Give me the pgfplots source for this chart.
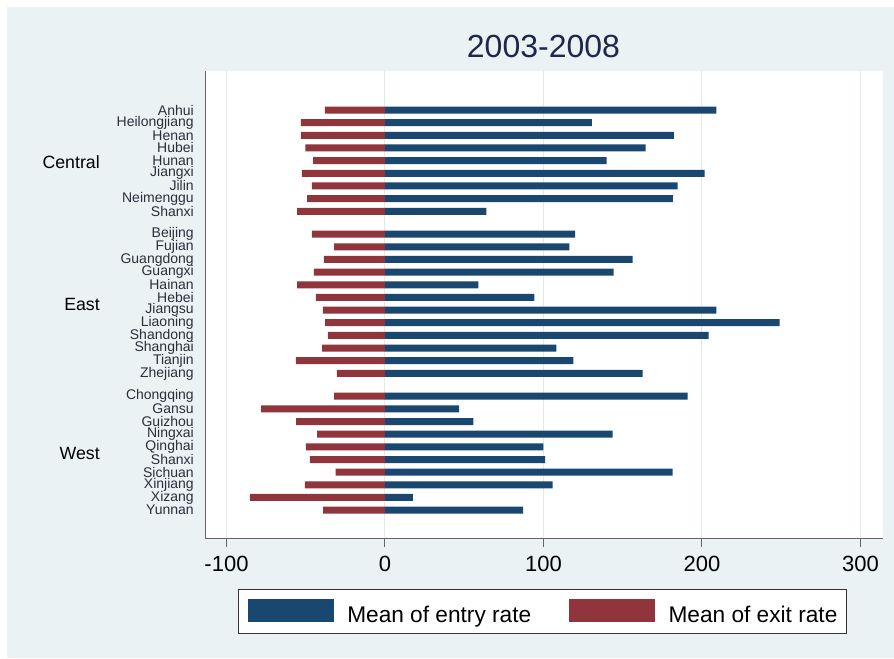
\documentclass[border=0pt]{standalone}
\usepackage{fontspec}
\setmainfont{Liberation Sans}
\usepackage{pgfplots}
\usepackage{pgfplotstable}
\pgfplotsset{compat=1.18}
\definecolor{stnavy}{RGB}{26,71,111}
\definecolor{stmaroon}{RGB}{144,53,59}
\definecolor{stbg}{RGB}{234,242,243}
\definecolor{stgrid}{RGB}{225,235,238}
\definecolor{sttitle}{RGB}{30,40,75}
\definecolor{stlab}{RGB}{45,45,60}
\definecolor{axgray}{RGB}{100,100,100}

\pgfplotstableread{
pos entry exit
0 209 -38
-1 130.6 -53
-2 182.2 -53
-3 164.4 -50.3
-4 139.8 -45.3
-5 201.7 -52.4
-6 184.7 -46.1
-7 181.6 -49.2
-8 64 -55.5
-9.8 119.9 -46.1
-10.8 116.4 -32.1
-11.8 156.2 -38.6
-12.8 144.2 -44.9
-13.8 58.9 -55.5
-14.8 94.3 -43.6
-15.8 209 -39.2
-16.8 249 -37.7
-17.8 204.2 -36
-18.8 108.2 -39.6
-19.8 118.9 -56.2
-20.8 162.5 -30.4
-22.6 191 -32.1
-23.6 46.8 -78.2
-24.6 55.8 -56
-25.6 143.6 -42.8
-26.6 100 -49.9
-27.6 101 -47.4
-28.6 181.4 -31.2
-29.6 105.7 -50.5
-30.6 17.6 -85.3
-31.6 87.2 -39
}\data

\begin{document}
\begin{tikzpicture}
\fill[white] (0pt,0pt) rectangle (670.5pt,-493.5pt);
\fill[stbg] (5.25pt,-5.25pt) rectangle (670.5pt,-493.5pt);
\begin{axis}[
  at={(153.75pt,-403.5pt)}, anchor=south west,
  scale only axis, width=508.5pt, height=350.25pt,
  xmin=-113.56, xmax=314.2, ymin=-33.8, ymax=3.08,
  axis background/.style={fill=white},
  axis x line*=bottom, axis y line*=left,
  axis line style={-, draw=axgray, line width=0.75pt},
  xtick={-100,0,100,200,300},
  tick align=outside, major tick length=6.75pt,
  x tick style={draw=axgray, line width=0.75pt},
  y tick style={draw=none},
  xmajorgrids, grid style={stgrid, line width=0.75pt},
  /pgf/number format/assume math mode=true,
  xticklabel style={font=\fontsize{16.5}{16.5}\selectfont, inner sep=0pt, black},
  xticklabel shift=6.75pt,
  ytick={0,-1,-2,-3,-4,-5,-6,-7,-8,-9.8,-10.8,-11.8,-12.8,-13.8,-14.8,-15.8,-16.8,-17.8,-18.8,-19.8,-20.8,-22.6,-23.6,-24.6,-25.6,-26.6,-27.6,-28.6,-29.6,-30.6,-31.6},
  yticklabels={Anhui,Heilongjiang,Henan,Hubei,Hunan,Jiangxi,Jilin,Neimenggu,Shanxi,Beijing,Fujian,Guangdong,Guangxi,Hainan,Hebei,Jiangsu,Liaoning,Shandong,Shanghai,Tianjin,Zhejiang,Chongqing,Gansu,Guizhou,Ningxai,Qinghai,Shanxi,Sichuan,Xinjiang,Xizang,Yunnan},
  yticklabel style={font=\fontsize{10.5}{10.5}\selectfont, inner sep=0pt, stlab},
  yticklabel shift=1.5pt,
  legend columns=2,
  legend style={at={(0.5,0)}, anchor=north, yshift=-38.25pt, xshift=-1pt,
    draw=black!80, line width=0.75pt, fill=white,
    inner xsep=6.75pt, inner ysep=6.75pt,
    font=\fontsize{17}{17}\selectfont,
    nodes={inner sep=0pt},
    /tikz/every odd column/.append style={column sep=10pt},
    /tikz/every even column/.append style={column sep=28.5pt}},
]
\addplot[xbar, bar width=5.25pt, bar shift=0pt, fill=stnavy, draw=none,
  legend image code/.code={\fill[stnavy] (0pt,-5pt) rectangle (64.5pt,12.25pt);}]
  table[x=entry, y=pos]{\data};
\addlegendentry{Mean of entry rate}
\addplot[xbar, bar width=5.25pt, bar shift=0pt, fill=stmaroon, draw=none,
  legend image code/.code={\fill[stmaroon] (0pt,-5pt) rectangle (64.5pt,12.25pt);}]
  table[x=exit, y=pos]{\data};
\addlegendentry{Mean of exit rate}
\end{axis}
\node[anchor=east, inner sep=0pt, font=\fontsize{13.3}{13.3}\selectfont, black] at (75pt,-121.5pt) {Central};
\node[anchor=east, inner sep=0pt, font=\fontsize{13.3}{13.3}\selectfont, black] at (75pt,-228pt) {East};
\node[anchor=east, inner sep=0pt, font=\fontsize{13.3}{13.3}\selectfont, black] at (75pt,-339.75pt) {West};
\node[font=\fontsize{24}{24}\selectfont, sttitle] at (407.6pt,-35pt) {2003-2008};
\end{tikzpicture}
\end{document}
